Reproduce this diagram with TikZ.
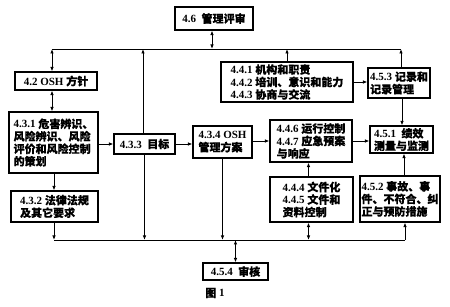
\documentclass[tikz,border=0pt]{standalone}
\usepackage{fontspec}
\setmainfont{Liberation Serif}
\newfontfamily\cjk[FakeBold=0.25]{Noto Sans CJK SC}
\newcommand\zh[1]{{\cjk #1}}
\usetikzlibrary{arrows.meta}
\begin{document}
\begin{tikzpicture}[x=1pt,y=-1pt,
  box/.style={draw,line width=1.1pt,inner sep=1.5pt,align=left,
    font=\bfseries\fontsize{11}{12.5}\selectfont},
  conn/.style={line width=0.9pt},
  tip/.style={-{Latex[length=4.5pt,width=3.5pt]}},
  dtip/.style={{Latex[length=4.5pt,width=3.5pt]}-{Latex[length=4.5pt,width=3.5pt]}}]
\useasboundingbox (0,0) rectangle (450,307);
% boxes
\node[box,minimum width=78pt,minimum height=23pt] (n46) at (214,18.5) {4.6\enspace\zh{管理评审}};
\node[box,minimum width=82pt,minimum height=18pt] (n42) at (56,81) {4.2 OSH \zh{方针}};
\node[box,minimum width=89pt,minimum height=61pt] (n431) at (53.5,142.5)
  {4.3.1 \zh{危害辨识、}\\\zh{风险辨识、风险}\\\zh{评价和风险控制}\\\zh{的策划}};
\node[box,minimum width=87pt,minimum height=31pt] (n432) at (54.5,206.5)
  {4.3.2 \zh{法律法规}\\\zh{及其它要求}};
\node[box,minimum width=61pt,minimum height=20pt] (n433) at (144.5,144) {4.3.3\enspace\zh{目标}};
\node[box,minimum width=59pt,minimum height=32pt] (n434) at (222.5,142)
  {4.3.4 OSH\\\zh{管理方案}};
\node[box,minimum width=132pt,minimum height=40pt] (n441) at (287,82)
  {4.4.1 \zh{机构和职责}\\4.4.2 \zh{培训、意识和能力}\\4.4.3 \zh{协商与交流}};
\node[box,minimum width=62pt,minimum height=30pt] (n453) at (399,83)
  {4.5.3 \zh{记录和}\\\zh{记录管理}};
\node[box,minimum width=82pt,minimum height=42pt] (n446) at (311,141)
  {4.4.6 \zh{运行控制}\\4.4.7 \zh{应急预案}\\\zh{与响应}};
\node[box,minimum width=63pt,minimum height=27pt] (n451) at (401.5,139.5)
  {4.5.1 \ \zh{绩效}\\\zh{测量与监测}};
\node[box,minimum width=83pt,minimum height=45pt] (n444) at (311.5,199.5)
  {4.4.4 \zh{文件化}\\4.4.5 \zh{文件和}\\\zh{资料控制}};
\node[box,minimum width=76pt,minimum height=46pt] (n452) at (400,199)
  {4.5.2 \zh{事故、事}\\\zh{件、不符合、纠}\\\zh{正与预防措施}};
\node[box,minimum width=65pt,minimum height=17pt] (n454) at (235.5,271.5) {4.5.4\enspace\zh{审核}};
\node[font=\bfseries\fontsize{11}{12}\selectfont] (cap) at (215,293) {\zh{图} 1};
% bus lines
\coordinate (tl) at (52,49);
\coordinate (tr) at (401,49);
\coordinate (bl) at (54,240);
\coordinate (br) at (405,240);
\draw[conn] (tl) -- (tr);
\draw[conn] (bl) -- (br);
% connectors
\draw[conn,dtip] ([xshift=-2pt]n46.south) -- ([xshift=-2pt]n46.south |- tl);
\draw[conn,dtip] (tl) -- (tl |- n42.north);
\draw[conn,dtip] (tl |- n42.south) -- (tl |- n431.north);
\draw[conn,tip] (bl |- n431.south) -- (bl |- n432.north);
\draw[conn,tip] (bl |- n432.south) -- (bl);
\draw[conn,tip] (n431.east |- n433.west) -- (n433.west);
\draw[conn,tip] ([xshift=-1.5pt]n433.north) -- ([xshift=-1.5pt]n433.north |- tl);
\draw[conn,tip] (n433.south) -- (n433.south |- bl);
\draw[conn,tip] (n433.east) -- (n433.east -| n434.west);
\draw[conn,tip] (n434.south) -- (n434.south |- bl);
\draw[conn,tip] (n434.east |- n446.west) -- (n446.west);
\draw[conn,tip] (n441.north) -- (n441.north |- tl);
\draw[conn,tip] (n441.east) -- (n441.east -| n453.west);
\draw[conn,tip] (tr |- n453.north) -- (tr);
\draw[conn,tip] ([xshift=3pt]n453.south) -- ([xshift=3pt]n453.south |- n451.north);
\draw[conn,tip] (n446.east) -- (n446.east -| n451.west);
\draw[conn,tip] ([xshift=-3pt]n444.north) -- ([xshift=-3pt]n444.north |- n446.south);
\draw[conn,dtip] ([xshift=-3pt]n444.south) -- ([xshift=-3pt]n444.south |- bl);
\draw[conn,tip] ([xshift=4pt]n452.north) -- ([xshift=4pt]n452.north |- n451.south);
\draw[conn,tip] (br) -- (br |- n452.south);
\draw[conn,dtip] (n454.north |- bl) -- (n454.north);
\end{tikzpicture}
\end{document}
